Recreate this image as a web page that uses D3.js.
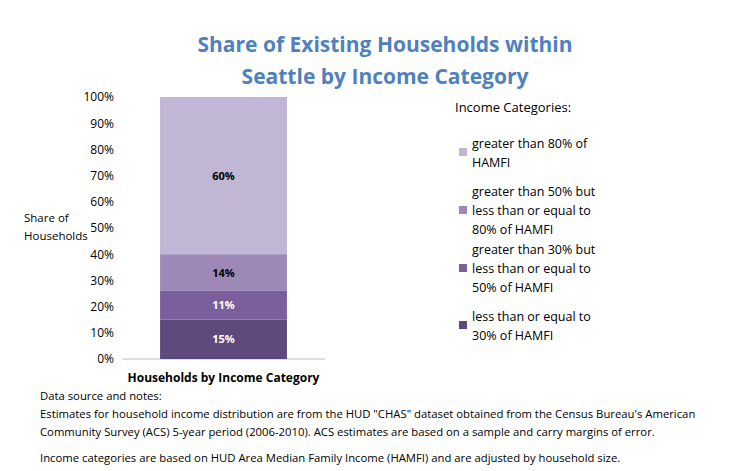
<!DOCTYPE html>
<html><head><meta charset="utf-8">
<script src="https://cdn.jsdelivr.net/npm/d3@7"></script>
<style>body{margin:0;background:#fff;font-family:"Open Sans",sans-serif;}</style>
</head><body>
<svg id="chart" width="750" height="471"></svg>
<script>
const categories = ['less than or equal to 30% of HAMFI', 'greater than 30% but less than or equal to 50% of HAMFI', 'greater than 50% but less than or equal to 80% of HAMFI', 'greater than 80% of HAMFI'];
const legendLines = [['less than or equal to', '30% of HAMFI'], ['greater than 30% but', 'less than or equal to', '50% of HAMFI'], ['greater than 50% but', 'less than or equal to', '80% of HAMFI'], ['greater than 80% of', 'HAMFI']];
const values = [15, 11, 14, 60];
const colors = ['#5f4a7d', '#7a5f9c', '#9d88b8', '#c1b6d4'];
const labelColors = ['#fff', '#fff', '#000', '#000'];
const yTicks = [0, 10, 20, 30, 40, 50, 60, 70, 80, 90, 100];

const svg = d3.select('#chart');
const fs = 'Open Sans, sans-serif';

svg.append('text').attr('x', 385).attr('y', 52).attr('text-anchor', 'middle')
	.style('font-size', '21px').style('font-weight', 'bold').style('fill', '#4f81bd').style('font-family', fs)
	.text('Share of Existing Households within');
svg.append('text').attr('x', 385).attr('y', 84).attr('text-anchor', 'middle')
	.style('font-size', '21px').style('font-weight', 'bold').style('fill', '#4f81bd').style('font-family', fs)
	.text('Seattle by Income Category');

let y = d3.scaleLinear().domain([0, 100]).range([359, 97]);
let x = d3.scaleBand().domain(['Households by Income Category']).range([122, 325]).paddingInner(0).paddingOuter(0.3);

let axis = svg.append('g').attr('transform', 'translate(122,0)')
	.call(d3.axisLeft(y).tickValues(yTicks).tickSize(0).tickPadding(8).tickFormat(d => d + '%'));
axis.select('.domain').remove();
axis.selectAll('text').style('font-size', '12px').style('font-family', fs).style('fill', '#000');

svg.append('line').attr('x1', 122).attr('x2', 325).attr('y1', 359).attr('y2', 359).attr('stroke', '#bbb');

let stack = [];
let acc = 0;
values.forEach((v, i) => { stack.push({ v: v, y0: acc, y1: acc + v, i: i }); acc += v; });

svg.selectAll('rect.bar').data(stack).enter().append('rect')
	.attr('x', x('Households by Income Category'))
	.attr('width', x.bandwidth())
	.attr('y', d => y(d.y1))
	.attr('height', d => y(d.y0) - y(d.y1))
	.style('fill', d => colors[d.i]);

svg.selectAll('text.lbl').data(stack).enter().append('text')
	.attr('x', x('Households by Income Category') + x.bandwidth() / 2)
	.attr('y', d => y((d.y0 + d.y1) / 2) + 4)
	.attr('text-anchor', 'middle')
	.style('font-size', '11px').style('font-weight', 'bold').style('font-family', fs)
	.style('fill', d => labelColors[d.i])
	.text(d => d.v + '%');

svg.append('text').attr('x', x('Households by Income Category') + x.bandwidth() / 2).attr('y', 382)
	.attr('text-anchor', 'middle').style('font-size', '12px').style('font-weight', 'bold').style('font-family', fs)
	.text('Households by Income Category');

svg.append('text').attr('x', 24).attr('y', 222).style('font-size', '11.5px').style('font-family', fs).text('Share of');
svg.append('text').attr('x', 24).attr('y', 240).style('font-size', '11.5px').style('font-family', fs).text('Households');

svg.append('text').attr('x', 455).attr('y', 112).style('font-size', '13px').style('font-family', fs).text('Income Categories:');

let legendY = [325, 268, 210, 152];
legendLines.forEach((lines, i) => {
	let top = legendY[i] - (lines.length - 1) * 9.5;
	svg.append('rect').attr('x', 459).attr('y', legendY[i] - 4).attr('width', 8).attr('height', 8).style('fill', colors[i]);
	lines.forEach((t, j) => {
		svg.append('text').attr('x', 472).attr('y', top + j * 19 + 5)
			.style('font-size', '12.5px').style('font-family', fs).text(t);
	});
});

let notes = [
	[40, 400, 'Data source and notes:'],
	[40, 418, 'Estimates for household income distribution are from the HUD "CHAS" dataset obtained from the Census Bureau\'s  American'],
	[40, 436, 'Community Survey (ACS) 5-year period (2006-2010). ACS estimates are based on a sample and carry margins of error.'],
	[40, 462, 'Income categories are based on HUD Area Median Family Income (HAMFI) and are adjusted by household size.']
];
notes.forEach(n => {
	svg.append('text').attr('x', n[0]).attr('y', n[1]).style('font-size', '11.3px').style('font-family', fs).text(n[2]);
});
</script>
</body></html>
